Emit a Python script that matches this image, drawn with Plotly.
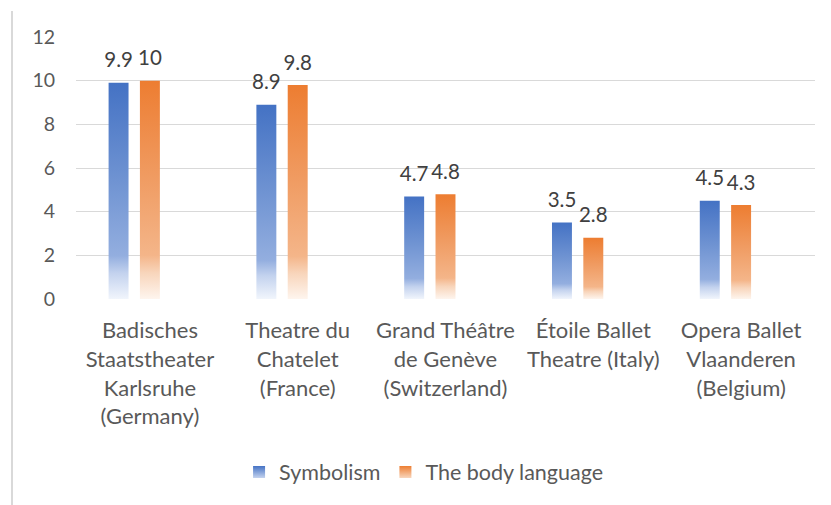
import plotly.graph_objects as go

categories = [
    "Badisches<br>Staatstheater<br>Karlsruhe<br>(Germany)",
    "Theatre du<br>Chatelet<br>(France)",
    "Grand Théâtre<br>de Genève<br>(Switzerland)",
    "Étoile Ballet<br>Theatre (Italy)",
    "Opera Ballet<br>Vlaanderen<br>(Belgium)",
]
symbolism = [9.9, 8.9, 4.7, 3.5, 4.5]
body_language = [10, 9.8, 4.8, 2.8, 4.3]
y_ticks = [0, 2, 4, 6, 8, 10, 12]

FONT = "Lato, Open Sans, sans-serif"
BAR_W = 0.135
series = [
    ("Symbolism", symbolism, -0.212,
     [[0, "#f1f5fc"], [0.12, "#c3d2ee"], [0.2, "#93aedf"], [0.55, "#6f93d2"], [1, "#4472c4"]]),
    ("The body language", body_language, 0.0,
     [[0, "#fef5ee"], [0.12, "#f8d5bb"], [0.2, "#f4b589"], [0.55, "#f09c63"], [1, "#ed7d31"]]),
]

fig = go.Figure()

for name, values, offset, scale in series:
    for i, v in enumerate(values):
        x0 = i + offset - BAR_W / 2
        x1 = i + offset + BAR_W / 2
        fig.add_trace(go.Scatter(
            x=[x0, x1], y=[v, v],
            mode="none",
            fill="tozeroy",
            fillgradient=dict(type="vertical", colorscale=scale),
            name=name,
            legendgroup=name,
            showlegend=False,
            hoverinfo="skip",
        ))
    # value labels (invisible marker pushes the text up off the bar)
    fig.add_trace(go.Scatter(
        x=[i + offset for i in range(len(values))],
        y=values,
        mode="markers+text",
        marker=dict(size=15, color="rgba(0,0,0,0)"),
        text=[f"{v:g}" for v in values],
        textposition="top center",
        textfont=dict(family=FONT, size=20.5, color="#404040"),
        showlegend=False,
        hoverinfo="skip",
    ))
    # legend entry
    fig.add_trace(go.Scatter(
        x=[None], y=[None],
        mode="markers",
        marker=dict(symbol="square", size=15, color=scale[-1][1],
                    gradient=dict(type="vertical", color=scale[1][1])),
        name=name,
        legendgroup=name,
    ))

# left border of the chart area
fig.add_shape(type="line", xref="paper", yref="paper",
              x0=-0.0866, x1=-0.0866, y0=1.099, y1=-0.79,
              line=dict(color="#d9d9d9", width=2))

fig.update_xaxes(
    range=[-0.5, len(categories) - 0.5],
    tickmode="array",
    tickvals=list(range(len(categories))),
    ticktext=categories,
    ticks="outside", ticklen=12, tickcolor="rgba(0,0,0,0)",
    tickfont=dict(family=FONT, size=22, color="#595959"),
    showgrid=False, zeroline=False, showline=False,
)
fig.update_yaxes(
    range=[0, 12],
    tickvals=y_ticks,
    ticks="outside", ticklen=16, tickcolor="rgba(0,0,0,0)",
    tickfont=dict(family=FONT, size=19.5, color="#595959"),
    showgrid=True, gridcolor="#d9d9d9", gridwidth=1,
    zeroline=False, showline=False,
)

fig.update_layout(
    width=831, height=505,
    margin=dict(l=76, r=16, t=37, b=206, autoexpand=False),
    plot_bgcolor="white", paper_bgcolor="white",
    font=dict(family=FONT, size=19, color="#595959"),
    legend=dict(orientation="h", x=0.471, xanchor="center", y=-0.66, yanchor="middle",
                font=dict(family=FONT, size=21.5, color="#595959"),
                itemsizing="constant", itemwidth=30),
    showlegend=True,
)

fig.write_html("out.html", config={"displayModeBar": False},
               post_script="document.body.style.margin='0';")
